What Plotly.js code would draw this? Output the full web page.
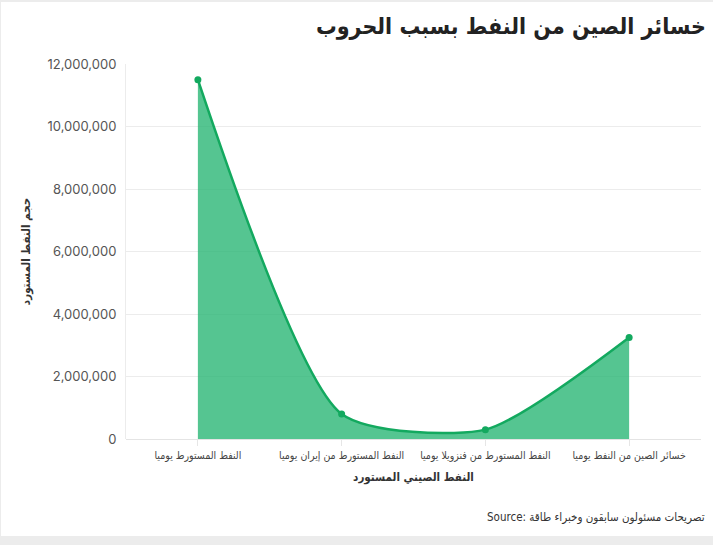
<!DOCTYPE html>
<html>
<head>
<meta charset="utf-8">
<script src="https://cdn.plot.ly/plotly-3.0.1.min.js"></script>
<style>
  html, body { margin: 0; padding: 0; background: #ececec; }
  #chart { margin-top: 2px; margin-left: 1px; width: 712px; height: 534px; background: #fff; }
</style>
</head>
<body>
<div id="chart"></div>
<script>
// النفط الصيني المستورد
var categories = [
  'النفط المستورط يوميا',
  'النفط المستورط من إيران يوميا',
  'النفط المستورط من فنزويلا يوميا',
  'خسائر الصين من النفط يوميا'
];
var volumes = [11500000, 800000, 300000, 3250000];

var chartTitle = 'خسائر الصين من النفط بسبب الحروب';
var xTitle = 'النفط الصيني المستورد';
var yTitle = 'حجم النفط المستورد';
var sourceText = 'Source: تصريحات مسئولون سابقون وخبراء طاقة';

var font = 'Inter, "DejaVu Sans", sans-serif';
var narrow = '"DejaVu Sans Condensed", "DejaVu Sans", sans-serif';

var trace = {
  x: categories,
  y: volumes,
  type: 'scatter',
  mode: 'lines+markers',
  fill: 'tozeroy',
  fillcolor: 'rgba(42,183,118,0.8)',
  line: {color: '#13a95f', width: 2.5, shape: 'spline', smoothing: 0.65},
  marker: {color: '#13a95f', size: 7},
  hoverinfo: 'x+y'
};

var layout = {
  width: 712,
  height: 534,
  margin: {l: 125, r: 12, t: 62, b: 97, autoexpand: false},
  paper_bgcolor: '#fff',
  plot_bgcolor: '#fff',
  font: {family: font, size: 12, color: '#444'},
  showlegend: false,
  title: {
    text: chartTitle,
    font: {family: narrow, size: 23, color: '#222', weight: 'bold'},
    xref: 'container', x: 0.99, xanchor: 'right',
    yref: 'container', y: 0.955, yanchor: 'middle'
  },
  xaxis: {
    type: 'category',
    range: [-0.5, 3.5],
    automargin: false,
    showgrid: false,
    ticks: 'outside',
    ticklen: 6,
    tickcolor: '#e6e6e6',
    tickangle: 0,
    showline: false,
    tickfont: {family: narrow, size: 10.5, color: '#444'},
    title: {text: xTitle, font: {family: narrow, size: 11.5, color: '#333', weight: 'bold'}, standoff: 12}
  },
  yaxis: {
    range: [0, 12000000],
    dtick: 2000000,
    tickformat: ',d',
    automargin: false,
    gridcolor: '#ececec',
    zeroline: true,
    zerolinecolor: '#e4e4e4',
    showline: true,
    linecolor: '#ececec',
    ticks: '',
    ticklabelstandoff: 6,
    tickfont: {size: 13, color: '#555'},
    title: {text: yTitle, font: {family: narrow, size: 11.5, color: '#333', weight: 'bold'}, standoff: 14}
  },
  annotations: [{
    text: sourceText,
    xref: 'paper', yref: 'paper',
    x: 1.01, y: -0.208,
    xanchor: 'right', yanchor: 'middle',
    showarrow: false,
    font: {family: narrow, size: 11.5, color: '#333'}
  }]
};

Plotly.newPlot('chart', [trace], layout, {displayModeBar: false, responsive: false});
</script>
</body>
</html>
